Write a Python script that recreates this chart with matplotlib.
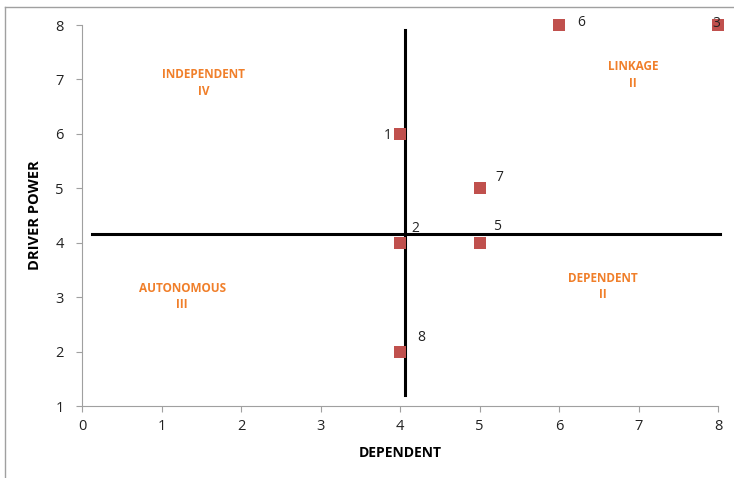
import matplotlib.pyplot as plt
from matplotlib.lines import Line2D

# variables: (dependence, driver power)
labels = ["1", "2", "3", "5", "6", "7", "8"]
dependence = [4, 4, 8, 5, 6, 5, 4]
driver_power = [6, 4, 8, 4, 8, 5, 2]
label_offsets = [(-9, -1), (11, 10), (-1, 1), (13, 12), (16, 2), (14, 8), (15, 10)]

quadrant_names = ["INDEPENDENT\nIV", "LINKAGE\nII", "AUTONOMOUS\nIII", "DEPENDENT\nII"]
quadrant_x = [1.53, 6.93, 1.26, 6.55]
quadrant_y = [6.93, 7.08, 3.01, 3.2]

# dividing lines
vline_x = 4.06
vline_y = (1.2, 7.91)
hline_y = 4.16
hline_x = (0.13, 8.03)

plt.rcParams['font.family'] = ['Open Sans', 'DejaVu Sans']

fig = plt.figure(figsize=(7.34, 4.78), dpi=100)
ax = fig.add_axes([82 / 734, 1 - 406 / 478, 636 / 734, 381 / 478])

ax.plot([vline_x, vline_x], vline_y, color='black', lw=2.2, zorder=2)
ax.plot(hline_x, [hline_y, hline_y], color='black', lw=2.2, zorder=2, clip_on=False)

ax.scatter(dependence, driver_power, marker='s', s=78, color='#C0504D', zorder=3,
           clip_on=False, linewidths=0)
for lab, x, y, off in zip(labels, dependence, driver_power, label_offsets):
    ax.annotate(lab, (x, y), xytext=off, textcoords='offset points',
                fontsize=10, color='#222222', ha='center', va='center',
                annotation_clip=False, zorder=4)

for name, x, y in zip(quadrant_names, quadrant_x, quadrant_y):
    ax.text(x, y, name, color='#F07F2A', fontsize=8.5, fontweight='bold',
            ha='center', va='center', linespacing=1.35)

ax.set_xlim(0, 8)
ax.set_ylim(1, 8)
ax.set_xticks(range(0, 9))
ax.set_yticks(range(1, 9))
for side in ['top', 'right']:
    ax.spines[side].set_visible(False)
for side in ['left', 'bottom']:
    ax.spines[side].set_color('#A0A0A0')
ax.tick_params(colors='#A0A0A0', labelcolor='#222222', labelsize=10.5, length=4)
ax.tick_params(axis='x', pad=5)
ax.tick_params(axis='y', pad=9)

ax.set_xlabel('DEPENDENT', fontsize=10, fontweight='bold', labelpad=9)
ax.set_ylabel('DRIVER POWER', fontsize=10.5, fontweight='bold', labelpad=10)

# chart area border (left and top edges visible)
fig.add_artist(Line2D([5 / 734, 5 / 734], [0, 1 - 7 / 478], color='#A0A0A0', lw=1))
fig.add_artist(Line2D([5 / 734, 1], [1 - 7 / 478, 1 - 7 / 478], color='#A0A0A0', lw=1))

fig.savefig('out.png', dpi=100)
